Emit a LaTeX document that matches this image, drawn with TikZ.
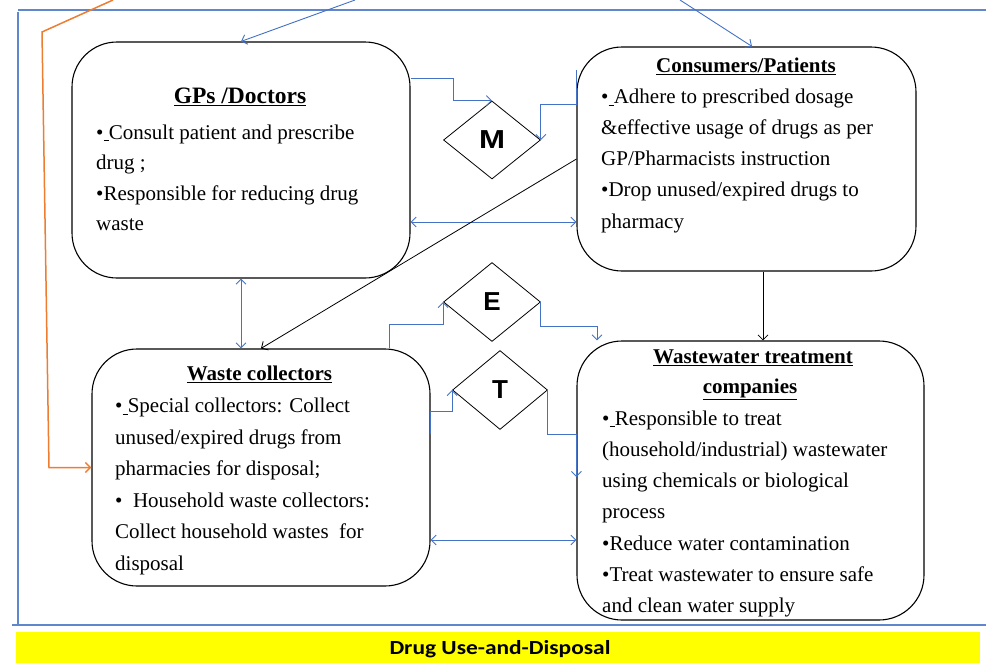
\documentclass[tikz,border=0pt]{standalone}
\usepackage{fontspec}
\setmainfont{Liberation Serif}
\newfontfamily\diamondfont{Liberation Sans}
\newfontfamily\barfont{Carlito}
\usetikzlibrary{arrows.meta,shapes.geometric}

\definecolor{lineblue}{HTML}{4472C4}
\definecolor{lineorange}{HTML}{ED7D31}
\definecolor{barfill}{HTML}{FFFF00}

\tikzset{
  actor/.style={draw=black, line width=1.1pt, rounded corners=45pt, inner sep=0pt},
  decision/.style={draw=black, line width=0.8pt, diamond, inner sep=0pt,
    font=\diamondfont\bfseries\fontsize{26}{26}\selectfont},
  title/.style={anchor=base, inner sep=0pt, font=\bfseries\fontsize{21}{24}\selectfont},
  body/.style={anchor=base west, inner sep=0pt, font=\fontsize{21}{25}\selectfont},
  tip/.style={-{Straight Barb[length=5pt,width=10pt]}},
  both/.style={{Straight Barb[length=5pt,width=10pt]}-{Straight Barb[length=5pt,width=10pt]}},
  flow/.style={draw=lineblue, line width=0.9pt},
  flowk/.style={draw=black, line width=0.8pt},
  frame/.style={draw=lineblue!85, line width=1.1pt},
}

% one node per text line, baselines evenly spaced
\newcommand\textlines[5]{%
  \foreach \txt [count=\i] in {#5}
    \node[body] (#1-\i) at (#2,{#3+#4*(\i-1)}) {\txt};}

\begin{document}
\begin{tikzpicture}[x=1pt,y=-1pt]
\useasboundingbox (0,0) rectangle (986,664);

% open frame around the actors
\draw[frame] (18,10) -- (986,10);
\draw[frame] (18,12) -- (18,625);
\draw[frame] (12,625) -- (986,625);

% actors
\node[actor, minimum width=338pt, minimum height=236pt] (gp) at (241,160) {};
\node[actor, minimum width=339pt, minimum height=224pt] (cp) at (746.5,159) {};
\node[actor, minimum width=338pt, minimum height=237pt] (wc) at (261,467.5) {};
\node[actor, minimum width=347pt, minimum height=279pt] (ww) at (750.5,480.5) {};

% decisions
\node[decision, minimum width=97pt, minimum height=78pt] (m) at (492,140) {\scalebox{1.2}[1]{M}};
\node[decision, minimum width=97pt, minimum height=79pt] (e) at (492,302) {E};
\node[decision, minimum width=95pt, minimum height=79pt] (t) at (500,390) {T};

% titles
\node[title, font=\bfseries\fontsize{23.5}{26}\selectfont] (gp-title) at (240,103.3) {\underline{GPs /Doctors}};
\node[title] (cp-title) at (746,72.7) {\underline{Consumers/Patients}};
\node[title] (wc-title) at (259.5,380) {\underline{Waste collectors}};
\node[title] (ww-title) at (753,363) {\underline{Wastewater treatment}};
\node[title] (ww-title2) at (750,393) {\underline{companies}};

% box texts
\textlines{gpt}{96}{139}{30.5}{{•\underline{\ }Consult patient and prescribe},{drug ;},{•Responsible for reducing drug},{waste}}
\textlines{cpt}{601}{103.3}{31.2}{{•\underline{\ }Adhere to prescribed dosage},{\&effective usage of drugs as per},{GP/Pharmacists instruction},{•Drop unused/expired drugs to},{pharmacy}}
\textlines{wct}{115}{412.5}{31.5}{{•\underline{\ }Special collectors: Collect},{unused/expired drugs from},{pharmacies for disposal;},{•\ \ Household waste collectors:},{Collect household wastes\ \ for},{disposal}}
\textlines{wwt}{602}{425}{31.3}{{•\underline{\ }Responsible to treat},{(household/industrial) wastewater},{using chemicals or biological},{process},{•Reduce water contamination},{•Treat wastewater to ensure safe},{and clean water supply}}

% incoming links from above the frame
\coordinate (topA) at (355,0);
\coordinate (topB) at (680,0);
\draw[flow, tip] (topA) -- (gp.north);
\draw[flow, tip] (topB) -- ([xshift=5.5pt]cp.north);

% orange feed into the waste collectors
\coordinate (or1) at (113,0);
\coordinate (or2) at (42,32);
\coordinate (or3) at (49,467.5);
\draw[draw=lineorange, line width=1.5pt, tip] (or1) -- (or2) -- (or3) -- (wc.west);

% GPs -> M <- consumers
\draw[flow, tip] ([yshift=82pt]gp.east) -- ++(43,0) |- (m.north);
\draw[flow, tip] ([yshift=89pt]cp.west) -- ([yshift=55pt]cp.west) -| (m.east);

% GPs <-> consumers
\coordinate (gc) at ([yshift=-62pt]gp.east);
\draw[flow, both] (gc) -- (gc -| cp.west);

% GPs <-> waste collectors
\draw[flow, both] (gp.south) -- (gp.south |- wc.north);

% consumers -> waste collectors
\draw[flowk, tip] (cp.west) -- (wc.north);

% consumers -> wastewater companies
\coordinate (cw) at ([xshift=16.5pt]cp.south);
\draw[flowk, tip] (cw) -- (cw |- ww.north);

% waste collectors -> E -> wastewater companies
\draw[flow, tip] ([xshift=128pt]wc.north) -- ++(0,-24) -| (e.west);
\draw[flow, tip] (e.east) -- ++(0,24) -| ([xshift=-153.5pt]ww.north);

% waste collectors -> T -> wastewater companies
\draw[flow, tip] ([yshift=34pt]wc.east) -- ([yshift=56.5pt]wc.east) -| (t.west);
\draw[flow, tip] (t.east) |- ([yshift=46.5pt]ww.west) -- ([yshift=3.5pt]ww.west);

% waste collectors <-> wastewater companies
\coordinate (wcw) at ([yshift=-72.5pt]wc.east);
\draw[flow, both] (wcw) -- (wcw -| ww.west);

% caption bar
\node[fill=barfill, minimum width=964pt, minimum height=31pt, inner sep=0pt] (bar) at (498,647.5) {};
\node[anchor=base, inner sep=0pt, font=\barfont\bfseries\fontsize{20}{24}\selectfont] (bar-text) at (500,654) {\scalebox{1.17}[1]{Drug Use-and-Disposal}};
\end{tikzpicture}
\end{document}
